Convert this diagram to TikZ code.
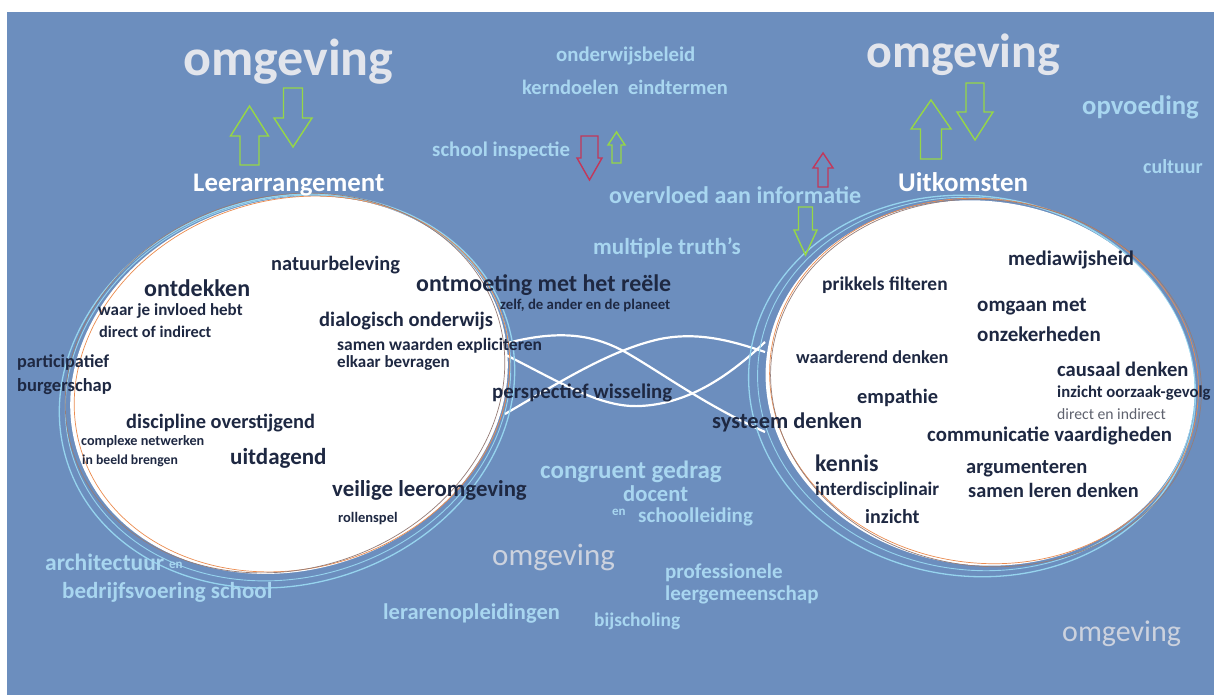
\documentclass[tikz,border=0pt]{standalone}
\usepackage{fontspec}
\setmainfont{Carlito}
\usetikzlibrary{calc}
\definecolor{bgblue}{RGB}{108,142,190}
\definecolor{skytext}{RGB}{168,214,240}
\definecolor{mist}{RGB}{226,229,236}
\definecolor{mistdark}{RGB}{204,210,222}
\definecolor{ink}{RGB}{30,40,66}
\definecolor{softgrey}{RGB}{95,98,110}
\definecolor{arrowgreen}{RGB}{150,215,70}
\definecolor{crimson}{RGB}{195,55,90}
\definecolor{ringblue}{RGB}{150,212,238}
\definecolor{ringorange}{RGB}{235,140,80}
\definecolor{ringbrown}{RGB}{150,125,120}
\newcommand{\fsz}[1]{\fontsize{#1}{#1}\selectfont}
\tikzset{
  word/.style={anchor=west,inner sep=0pt,text=ink,font=\bfseries\fsz{#1}},
  sky/.style={anchor=west,inner sep=0pt,text=skytext,font=\bfseries\fsz{#1}},
  fog/.style={anchor=west,inner sep=0pt,text=mist,font=\bfseries\fsz{#1}},
  haze/.style={anchor=west,inner sep=0pt,text=mistdark,font=\fsz{#1}},
  title/.style={anchor=west,inner sep=0pt,text=white,font=\bfseries\fsz{#1}},
  strand/.style={white,line width=2.2pt},
  rim/.style={draw=#1,line width=1.1pt},
  rim/.default=ringblue,
  % outlined block arrow: colour, length, head half width, shaft half width, head length
  pics/blockarrow/.style n args={5}{code={
    \draw[#1,line width=1.4pt,line join=miter] (-#4,0) -- (-#4,{#2-#5}) -- (-#3,{#2-#5}) -- (0,#2)
      -- (#3,{#2-#5}) -- (#4,{#2-#5}) -- (#4,0) -- cycle;
  }},
}

\begin{document}
\begin{tikzpicture}[x=1pt,y=-1pt]
  \useasboundingbox (0,0) rectangle (1214,695);
  \fill[white] (0,0) rectangle (1214,695);
  \fill[bgblue] (7,12) rectangle (1214,695);

  % strands between the two loops
  \draw[strand] (500,345) .. controls (560,328) and (595,335) .. (627,353) .. controls (665,375) and (705,405) .. (765,432);
  \draw[strand] (500,352) .. controls (560,382) and (600,408) .. (640,406) .. controls (685,404) and (725,380) .. (765,342);
  \draw[strand] (505,414) .. controls (560,382) and (610,350) .. (660,339) .. controls (700,331) and (735,342) .. (765,352);

  % left loop
  \draw[rim,line width=1.3pt,rotate around={18:(287,391)}] (287,391) ellipse [x radius=231,y radius=193];
  \draw[rim,line width=0.9pt,rotate around={18:(288,388)}] (288,388) ellipse [x radius=226,y radius=189];
  \fill[white,rotate around={18:(289,385)}] (289,385) ellipse [x radius=222,y radius=185];
  \draw[ringorange,line width=0.7pt,rotate around={18:(292,384)}] (292,384) ellipse [x radius=221,y radius=184];
  \draw[ringbrown,line width=0.7pt,rotate around={18:(285,383)}] (285,383) ellipse [x radius=223,y radius=186];

  % right loop
  \draw[rim,line width=1.3pt,rotate around={-8:(972,386)}] (972,386) ellipse [x radius=224,y radius=190];
  \draw[rim,line width=0.9pt,rotate around={-8:(976,384)}] (976,384) ellipse [x radius=219,y radius=186];
  \fill[white,rotate around={-8:(980,383)}] (980,383) ellipse [x radius=215,y radius=182];
  \draw[ringorange,line width=0.7pt,rotate around={-8:(984,381)}] (984,381) ellipse [x radius=215,y radius=182];
  \draw[ringbrown,line width=0.7pt,rotate around={-8:(986,383)}] (986,383) ellipse [x radius=216,y radius=183];

  % surroundings
  \node[fog=52] (omgTL) at (183,62) {omgeving};
  \node[fog=48] (omgTR) at (866,55) {omgeving};
  \node[haze=31] (omgB) at (492,557) {omgeving};
  \node[haze=30] (omgBR) at (1062,634) {omgeving};
  \node[title=26.8] (leer) at (193,185) {Leerarrangement};
  \node[title=27] (uitk) at (898,182) {Uitkomsten};

  \node[sky=20.8] (beleid) at (556,56) {onderwijsbeleid};
  \node[sky=20.5] (kern) at (522,87) {kerndoelen~ eindtermen};
  \node[sky=20.8] (insp) at (432,151) {school inspectie};
  \node[sky=24] (overv) at (609,195) {overvloed aan informatie};
  \node[sky=23] (truth) at (593,248) {multiple truth's};
  \node[sky=26.7] (opvoed) at (1082,107) {opvoeding};
  \node[sky=20] (cult) at (1143,167) {cultuur};
  \node[sky=25] (congr) at (540,472) {congruent gedrag};
  \node[sky=22.6] (docent) at (623,494) {docent};
  \node[sky=13] (en1) at (612,512) {en};
  \node[sky=21] (schoolL) at (638,517) {schoolleiding};
  \node[sky=21] (prof) at (665,573) {professionele};
  \node[sky=21] (leerg) at (665,595) {leergemeenschap};
  \node[sky=22.5] (lerar) at (383,614) {lerarenopleidingen};
  \node[sky=19.4] (bijsch) at (594,621) {bijscholing};
  \node[sky=23.5] (archi) at (45,562) {architectuur};
  \node[sky=13] (en2) at (169,565) {en};
  \node[sky=23] (bedr) at (62,592) {bedrijfsvoering school};

  % left loop words
  \node[word=20.4] (natuur) at (271,265) {natuurbeleving};
  \node[word=24] (ontdek) at (144,288) {ontdekken};
  \node[word=17] (invloed) at (98,311) {waar je invloed hebt};
  \node[word=16.3] (direct) at (99,332) {direct of indirect};
  \node[word=18.2] (partic) at (17,363) {participatief};
  \node[word=18.5] (burger) at (17,387) {burgerschap};
  \node[word=20.4] (discip) at (126,423) {discipline overstijgend};
  \node[word=14.2] (complex) at (81,442) {complexe netwerken};
  \node[word=13.7] (beeld) at (82,461) {in beeld brengen};
  \node[word=23] (uitdag) at (230,458) {uitdagend};
  \node[word=22.8] (veilig) at (332,490) {veilige leeromgeving};
  \node[word=14.5] (rollen) at (338,519) {rollenspel};
  \node[word=23.9] (ontmoet) at (416,285) {ontmoeting met het reële};
  \node[word=14.8] (zelf) at (500,305) {zelf, de ander en de planeet};
  \node[word=20.5] (dialoog) at (319,321) {dialogisch onderwijs};
  \node[word=17.5] (waarden) at (337,346) {samen waarden expliciteren};
  \node[word=17] (bevrag) at (337,363) {elkaar bevragen};
  \node[word=20.8] (persp) at (492,393) {perspectief wisseling};

  % right loop words
  \node[word=20.8] (media) at (1008,260) {mediawijsheid};
  \node[word=19.4] (prikkel) at (822,285) {prikkels filteren};
  \node[word=21] (omgaan) at (977,307) {omgaan met};
  \node[word=21] (onzeker) at (977,334) {onzekerheden};
  \node[word=18.3] (waarder) at (796,357) {waarderend denken};
  \node[word=20.6] (causaal) at (1057,369) {causaal denken};
  \node[word=16.7] (oorzaak) at (1057,393) {inzicht oorzaak-gevolg};
  \node[word=15.7,text=softgrey,font=\fsz{15.7}] (dirind) at (1057,414) {direct en indirect};
  \node[word=20.4] (empath) at (857,398) {empathie};
  \node[word=22.4] (systeem) at (712,422) {systeem denken};
  \node[word=20.8] (commun) at (927,436) {communicatie vaardigheden};
  \node[word=23.7] (kennis) at (815,463) {kennis};
  \node[word=20.5] (argum) at (966,469) {argumenteren};
  \node[word=19.2] (interd) at (815,490) {interdisciplinair};
  \node[word=20.3] (samen) at (968,490) {samen leren denken};
  \node[word=20] (inzicht) at (865,517) {inzicht};

  % block arrows
  \pic[rotate=180] (upL) at (249.5,165) {blockarrow={arrowgreen}{59}{19}{9.5}{30}};
  \pic (downL) at (293,88) {blockarrow={arrowgreen}{59}{19}{9.5}{29}};
  \pic[rotate=180] (upR) at (931,159) {blockarrow={arrowgreen}{59}{20}{10.5}{29}};
  \pic (downR) at (975,83) {blockarrow={arrowgreen}{57}{18}{9}{28}};
  \pic (inspDown) at (589.5,136) {blockarrow={crimson,line width=1.2pt}{44}{12.5}{8.5}{22}};
  \pic[rotate=180] (inspUp) at (616.5,163) {blockarrow={arrowgreen,line width=1.1pt}{31}{8.5}{4.5}{13}};
  \pic[rotate=180] (infoUp) at (823,187) {blockarrow={crimson,line width=1.1pt}{34}{10}{5}{15}};
  \pic (infoDown) at (805.5,207) {blockarrow={arrowgreen,line width=1.2pt}{48}{11.5}{7}{25}};
\end{tikzpicture}
\end{document}
